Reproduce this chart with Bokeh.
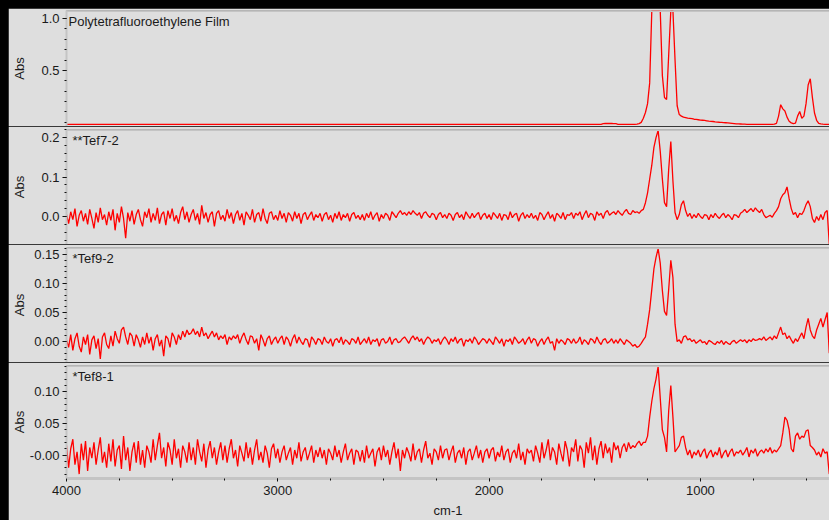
import numpy as np
from bokeh.plotting import figure
from bokeh.layouts import column
from bokeh.models import Range1d, FixedTicker, Label, Span
from bokeh.embed import file_html
from bokeh.resources import INLINE

# ---------------- data ----------------
# wavenumber grid (cm-1), 4000 -> 390 in 10 cm-1 steps
wavenumber = np.arange(4000, 385, -10)

# absorbance values in mAbs, one row = 200 cm-1
ptfe_mabs = [
    -20, -20, -20, -20, -20, -20, -19, -20, -20, -20, -20, -20, -20, -20, -20, -20, -20, -20, -20, -20,
    -20, -20, -20, -20, -20, -20, -20, -20, -20, -20, -20, -20, -20, -20, -20, -20, -20, -20, -20, -20,
    -20, -20, -20, -20, -20, -20, -20, -20, -20, -20, -20, -20, -20, -20, -20, -20, -20, -20, -20, -20,
    -20, -20, -20, -20, -20, -20, -20, -20, -20, -20, -20, -20, -20, -20, -20, -20, -20, -20, -20, -20,
    -20, -20, -20, -20, -20, -20, -20, -20, -20, -20, -20, -20, -20, -20, -20, -20, -20, -20, -20, -20,
    -20, -20, -20, -20, -20, -20, -20, -20, -20, -20, -20, -20, -20, -20, -20, -20, -20, -20, -20, -20,
    -20, -20, -20, -20, -20, -20, -20, -20, -20, -20, -20, -20, -20, -20, -20, -20, -20, -20, -20, -20,
    -20, -20, -20, -20, -20, -20, -20, -20, -20, -20, -20, -20, -20, -20, -20, -20, -20, -20, -20, -20,
    -20, -20, -20, -20, -20, -20, -20, -20, -20, -20, -20, -20, -20, -20, -20, -20, -20, -20, -20, -20,
    -20, -20, -20, -20, -20, -20, -20, -20, -20, -20, -20, -20, -20, -20, -20, -20, -20, -20, -20, -20,
    -20, -20, -20, -20, -20, -20, -20, -20, -20, -20, -20, -20, -20, -20, -20, -20, -20, -20, -20, -20,
    -20, -20, -20, -20, -20, -20, -20, -20, -20, -20, -20, -20, -20, -20, -20, -20, -20, -20, -20, -20,
    -20, -20, -20, -20, -20, -20, -20, -20, -20, -20, -20, -20, -20, -19, -12, -11, -11, -11, -11, -12,
    -13, -19, -20, -20, -20, -20, -20, -20, -20, -19, -17, -12, 0, 40, 95, 180, 380, 1075, 1075, 1075,
    1075, 1075, 450, 240, 220, 650, 1075, 1075, 600, 160, 75, 60, 50, 45, 40, 38, 35, 30, 28, 25,
    22, 20, 18, 15, 12, 10, 8, 5, 3, 1, 0, -2, -4, -6, -8, -10, -12, -14, -15, -16,
    -17, -18, -19, -19, -20, -20, -20, -20, -20, -20, -20, -20, -20, -19, -19, -18, -10, 60, 170, 130,
    110, 50, 10, -5, -12, -8, 60, 105, 40, 60, 180, 360, 420, 240, 90, 20, -10, -15, -18, -20,
    -20, -20,
]

tef72_mabs = [
    5, -18, 12, -8, 20, -25, 3, 15, -12, 8, -20, 18, -5, -30, 10, -15, 22, -8, 5, -22,
    12, -10, 18, -35, 8, -15, 25, -5, -55, 10, -12, 15, -20, 5, 18, -8, -25, 12, -3, 20,
    -15, 8, -10, 22, -18, 5, 12, -22, 15, -5, 20, -12, 3, -18, 10, 25, -8, 12, -15, 5,
    18, -10, 8, -20, 28, -5, 10, -15, 5, 12, -25, 8, 15, -8, 3, -12, 18, -5, 10, -18,
    5, 15, -10, 8, -22, 12, 3, -8, 18, -15, 5, 10, -12, 20, -5, -18, 8, 12, -8, 3,
    -10, 15, -5, 8, -15, 10, 3, -12, 12, -5, 8, -18, 5, 10, -8, 3, 12, -10, 5, -3,
    8, -12, 5, 10, -8, 3, -15, 8, -5, 12, -10, 5, -3, 8, -12, 5, 10, -5, 3, -8,
    5, -10, 8, -3, 12, -8, 3, 10, -12, 5, -5, 8, 3, -10, 12, 5, -3, 8, 15, 5,
    10, 3, 12, 5, 15, 8, 3, 10, -5, 8, 12, 3, -3, 8, 5, -8, 5, 10, -3, 5,
    -5, 8, 3, -10, 5, 10, -3, 5, -8, 12, 3, -5, 8, -3, 5, 10, -8, 3, 8, -5,
    5, -8, 10, 3, -5, 8, -10, 5, 3, -8, 12, -3, 5, 8, -12, 3, 10, -5, 5, -3,
    8, -5, 3, -10, 10, 5, -8, 3, 12, -5, 5, -12, 8, 3, -5, 10, -8, 5, 3, 10,
    -5, 8, 3, 12, -8, 5, 15, -3, 8, 5, -10, 12, 3, 8, -5, 10, 15, 3, 8, 12,
    5, 15, 8, 3, 12, 18, 8, 5, 15, 10, 12, 8, 15, 18, 35, 60, 95, 130, 175, 200,
    218, 165, 95, 35, 25, 120, 190, 90, 10, -8, 5, 30, 40, 15, 0, 8, -5, 5, -3, 8,
    0, -5, 5, 3, -8, 5, -3, 8, 0, -5, 3, 8, -3, 5, 0, -8, 5, 3, -3, 8,
    12, 18, 10, 15, 20, 12, 22, 15, 10, 18, 5, -3, 0, 3, -2, 8, 15, 25, 45, 55,
    60, 75, 45, 20, 5, 10, -3, 8, 5, 15, 30, 40, 25, -5, -15, 0, -10, 5, -8, 10,
    15, -70,
]

tef92_mabs = [
    3, -10, 12, -15, 5, 15, -8, -18, 8, -5, 12, -22, 3, 10, -12, 5, -30, 8, 15, -5,
    -12, 10, -8, 18, 5, -3, 20, 25, 8, -5, 15, 10, -8, 12, 3, -10, 8, -5, 15, -3,
    8, -15, 5, 12, -8, 3, -25, 10, 5, -10, 15, 8, -5, 12, 3, 18, 8, 20, 12, 15,
    22, 12, 18, 8, 25, 10, 15, 5, 12, 18, 8, 15, 3, 10, 5, 12, -5, 8, 3, 10,
    5, 12, -3, 8, 15, 3, -5, 10, 8, -3, 5, -15, 12, 3, -8, 5, 10, -5, 3, 8,
    -3, 5, 10, -5, 8, 3, -8, 5, 12, -3, 8, 0, -5, 5, 3, -10, 8, 3, -5, 5,
    3, -5, 8, 0, -3, 5, -8, 3, 5, -2, 8, -5, 3, 0, -5, 5, 3, -3, 8, -5,
    0, 5, -3, 8, -5, 3, 0, 5, -8, 3, 5, -3, 0, 8, -5, 3, 5, -2, 0, 5,
    8, 3, -3, 5, 10, 3, 8, 0, 5, -5, 3, 8, 5, -3, 3, 0, 5, -5, 3, 8,
    3, -5, 5, 0, 8, -3, 3, 5, -8, 3, 0, 5, -3, 8, 3, -5, 0, 5, 3, -3,
    5, 0, -5, 8, 3, -3, 5, -8, 3, 0, 5, -5, 8, 3, -3, 0, 5, -5, 3, 8,
    -3, 5, 3, -8, 0, 5, -5, 3, 8, -3, 0, -15, 5, -3, 3, 0, -5, 5, 3, -3,
    5, -3, 0, 8, -5, 3, 0, -5, 5, 3, -3, 8, 0, -5, 3, 5, -3, 0, 5, -3,
    3, -3, 5, 0, -5, 3, 0, -3, -8, -5, -10, -8, -3, 3, 8, 30, 55, 90, 125, 145,
    160, 135, 88, 52, 45, 90, 140, 110, 30, 0, 3, -3, 8, 10, 3, 5, 0, 3, -3, 0,
    3, -2, 0, -5, 2, 0, -3, -5, 0, -3, 2, -5, 0, -3, -5, 0, 2, -3, 0, 3,
    0, 3, -2, 3, 0, 5, 2, 3, 5, 3, 8, 2, 5, 8, 3, 10, 5, 15, 25, 12,
    15, 5, 10, 3, -3, 5, 0, 8, 15, 5, 25, 40, 20, 10, 5, 20, 30, 40, 25, 38,
    50, -20,
]

tef81_mabs = [
    15, -20, 10, 25, -15, 5, -30, 18, -8, 22, -25, 12, -5, 20, -15, 8, 28, -12, 5, -20,
    18, -10, 25, -18, 8, 15, -22, 30, -8, 12, -25, 5, 20, -12, 22, -15, 8, -20, 15, 5,
    -12, 25, -8, 15, 35, -5, 12, -18, 20, 8, -15, 25, -5, 10, -20, 15, 5, -12, 20, -8,
    12, -15, 25, 5, -10, 18, -20, 8, 22, -5, 12, -15, 5, 20, -8, 15, -12, 10, 25, -5,
    8, -18, 15, 3, -10, 20, -5, 12, -15, 8, 25, -8, 5, -12, 15, 3, -20, 10, 18, -5,
    10, -12, 5, 15, -8, 3, 12, -15, 8, -5, 20, -10, 5, 12, -8, 3, 15, -12, 8, -3,
    12, -5, 8, -15, 10, 3, -8, 15, -3, 8, -12, 5, 18, -8, 3, 10, -15, 8, 5, -10,
    8, -12, 15, -5, 3, 10, -18, 5, 12, -8, 15, -3, 8, -15, 5, 20, -5, 10, -25, 8,
    -5, 12, 3, -10, 18, -8, 5, 10, -12, 8, 22, -5, 3, -15, 10, 5, -8, 15, -5, 8,
    10, -8, 5, 15, -12, 3, 8, -5, 12, -15, 5, 10, -8, 3, 15, -5, 8, -12, 5, 10,
    -5, 8, 12, -10, 5, -3, 15, -8, 5, 10, -12, 3, 8, -5, 18, -8, 5, -15, 10, 3,
    8, -10, 15, 3, -12, 20, -5, 8, 25, -8, 12, 5, -15, 18, 3, -10, 22, 8, -18, 12,
    5, 25, -10, 15, 8, -20, 20, 3, 28, -8, 15, -15, 10, 22, -5, 18, 3, 12, -12, 20,
    8, 15, -5, 12, 18, 5, 20, 10, 15, 12, 18, 22, 15, 20, 20, 30, 60, 85, 105, 120,
    140, 90, 40, 28, 5, 70, 110, 60, 5, 10, 15, 28, 30, 12, 0, 8, -5, 5, 0, 8,
    -3, 5, 10, -5, 3, 8, -3, 5, 0, 12, -5, 3, 8, -3, 5, 10, -2, 5, 3, 8,
    0, 5, 12, -3, 8, 3, 10, -2, 5, 8, 3, 10, 5, 12, 3, 8, 5, 10, 15, 35,
    60, 55, 40, 10, 5, 30, 35, 25, 30, 28, 38, 40, 15, 12, 8, 0, 5, -3, 10, 3,
    5, -30,
]

panel_names = ["Polytetrafluoroethylene Film", "**Tef7-2", "*Tef9-2", "*Tef8-1"]

ptfe_ticks = [0.5, 1.0]
ptfe_tick_labels = ["0.5", "1.0"]
tef72_ticks = [0.0, 0.1, 0.2]
tef72_tick_labels = ["0.0", "0.1", "0.2"]
tef92_ticks = [0.0, 0.05, 0.10, 0.15]
tef92_tick_labels = ["0.00", "0.05", "0.10", "0.15"]
tef81_ticks = [0.0, 0.05, 0.10]
tef81_tick_labels = ["-0.00", "0.05", "0.10"]

x_ticks = [4000, 3000, 2000, 1000]
x_tick_labels = ["4000", "3000", "2000", "1000"]

# ---------------- style ----------------
BG = "#dedede"
BAND = "#c4c4c4"
TXT = "#1a1a1a"
FONT = "Liberation Sans"
RED = "#ff0000"

panels = [
    dict(name=panel_names[0], vals=ptfe_mabs, yr=(-0.04, 1.077), ticks=ptfe_ticks,
         labels=ptfe_tick_labels, minor=np.arange(0.0, 1.05, 0.1), dx=2, lab_off=11),
    dict(name=panel_names[1], vals=tef72_mabs, yr=(-0.071, 0.2205), ticks=tef72_ticks,
         labels=tef72_tick_labels, minor=np.arange(-0.06, 0.221, 0.02), dx=6, lab_off=11),
    dict(name=panel_names[2], vals=tef92_mabs, yr=(-0.036, 0.162), ticks=tef92_ticks,
         labels=tef92_tick_labels, minor=np.arange(-0.03, 0.161, 0.01), dx=6, lab_off=4),
    dict(name=panel_names[3], vals=tef81_mabs, yr=(-0.037, 0.1415), ticks=tef81_ticks,
         labels=tef81_tick_labels, minor=np.arange(-0.03, 0.141, 0.01), dx=6, lab_off=0),
]

x_range = Range1d(4000, 389)
figs = []
for i, pn in enumerate(panels):
    last = i == len(panels) - 1
    y0, y1 = pn["yr"]
    p = figure(width=821, height=158 if last else 118,
               x_range=x_range, y_range=Range1d(y0, y1),
               output_backend="svg", toolbar_location=None,
               x_axis_location="below" if last else None,
               min_border_left=58, min_border_right=0,
               min_border_top=2 if i == 0 else 3,
               min_border_bottom=39 if last else 0,
               background_fill_color=BG, border_fill_color=BG,
               outline_line_color=None)
    p.grid.visible = False

    absorbance = np.array(pn["vals"], dtype=float) / 1000.0
    p.line(wavenumber, absorbance, line_color=RED, line_width=1.3)

    yax = p.yaxis[0]
    yax.ticker = FixedTicker(ticks=pn["ticks"], minor_ticks=[float(v) for v in pn["minor"]])
    yax.major_label_overrides = dict(zip(pn["ticks"], pn["labels"]))
    yax.axis_label = "Abs"
    yax.axis_label_text_font_style = "normal"
    yax.axis_label_text_font = FONT
    yax.axis_label_text_font_size = "13px"
    yax.axis_label_text_color = TXT
    yax.axis_label_standoff = pn["lab_off"]
    yax.axis_line_color = BAND
    yax.axis_line_width = 2
    yax.major_tick_line_color = "#111111"
    yax.major_tick_out = 4
    yax.major_tick_in = 0
    yax.minor_tick_line_color = "#111111"
    yax.minor_tick_out = 2
    yax.minor_tick_in = 0
    yax.major_label_standoff = 3
    yax.major_label_text_font = FONT
    yax.major_label_text_font_size = "13px"
    yax.major_label_text_color = TXT

    p.add_layout(Span(location=y1, dimension="width", line_color=BAND, line_width=3))

    p.add_layout(Label(x=4000, y=y1, x_offset=pn["dx"], y_offset=-3, text=pn["name"],
                       text_baseline="top", text_align="left", text_font=FONT,
                       text_font_size="13px", text_color=TXT))

    if last:
        xax = p.xaxis[0]
        xax.ticker = FixedTicker(ticks=x_ticks, minor_ticks=[float(v) for v in np.arange(4000, 389, -250)])
        xax.major_label_overrides = dict(zip(x_ticks, x_tick_labels))
        xax.axis_label = "cm-1"
        xax.axis_label_text_font_style = "normal"
        xax.axis_label_text_font = FONT
        xax.axis_label_text_font_size = "13px"
        xax.axis_label_text_color = TXT
        xax.axis_label_standoff = 5
        xax.axis_line_color = BAND
        xax.axis_line_width = 3
        xax.major_tick_line_color = "#111111"
        xax.major_tick_out = 3
        xax.major_tick_in = 0
        xax.minor_tick_line_color = "#111111"
        xax.minor_tick_out = 2
        xax.minor_tick_in = 0
        xax.major_label_standoff = 4
        xax.major_label_text_font = FONT
        xax.major_label_text_font_size = "13px"
        xax.major_label_text_color = TXT
    figs.append(p)

layout = column(*figs, spacing=0)

TEMPLATE = ("{% block postamble %}<style>html, body { background: #000000; overflow: hidden; } "
            "body { padding: 8px 0 0 8px; }</style>{% endblock %}")
open("out.html", "w").write(file_html(layout, INLINE, template=TEMPLATE))
